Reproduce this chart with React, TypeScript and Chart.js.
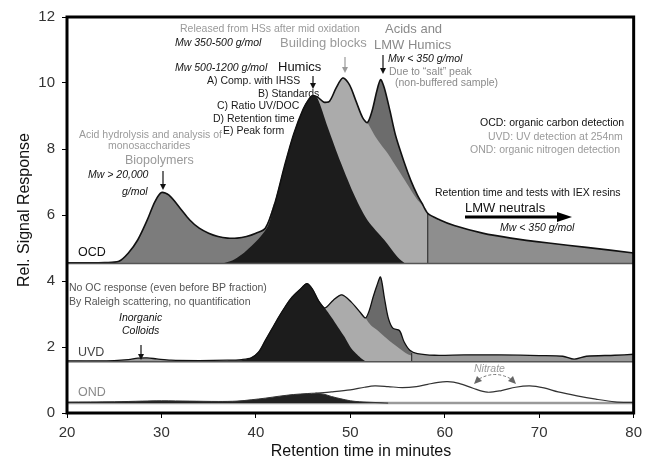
import { useEffect, useRef } from 'react';
import { Chart, registerables } from 'chart.js';

Chart.register(...registerables);

const FONT = '"Liberation Sans", Arial, Helvetica, sans-serif';

// axis ticks
const xTicks = [20, 30, 40, 50, 60, 70, 80];
const yTicks = [0, 2, 4, 6, 8, 10, 12];

// panel baselines
const ocdBase = 4.53;
const uvdBase = 1.55;
const ondBase = 0.3;

// OCD chromatogram (overall envelope)
const ocdTime = [20, 22, 24, 25.5, 26.5, 27.5, 28.5, 29.3, 30, 30.8, 32, 33, 34, 35, 36, 37, 38, 39, 40, 41, 42, 43, 44, 45, 45.6, 46, 46.5, 47.2, 47.8, 48.5, 49.2, 49.9, 50.6, 51.3, 51.8, 52.3, 52.8, 53.2, 53.6, 54.2, 54.8, 55.7, 56.4, 57.1, 57.6, 58.2, 59.5, 61, 64, 67, 71, 75, 80];
const ocdSignal = [4.55, 4.55, 4.56, 4.6, 4.85, 5.25, 5.85, 6.4, 6.68, 6.6, 6.2, 5.85, 5.6, 5.45, 5.35, 5.3, 5.3, 5.35, 5.45, 5.6, 6.35, 7.45, 8.45, 9.2, 9.5, 9.62, 9.58, 9.42, 9.45, 9.85, 10.15, 9.95, 9.45, 8.95, 8.8, 9.15, 9.75, 10.1, 9.85, 9.15, 8.4, 7.6, 7.05, 6.6, 6.35, 6.05, 5.85, 5.68, 5.45, 5.3, 5.15, 5.02, 4.85];

// OCD fractions
const bioOcdTime = [20, 25.5, 26.5, 27.5, 28.5, 29.3, 30, 30.8, 32, 33, 34, 35, 36, 37, 38, 39, 40, 41, 42, 42];
const bioOcdSignal = [4.55, 4.6, 4.85, 5.25, 5.85, 6.4, 6.68, 6.6, 6.2, 5.85, 5.6, 5.45, 5.35, 5.3, 5.3, 5.35, 5.45, 5.6, 6.35, 4.53];

const humicsOcdTime = [36.5, 37.5, 38.5, 39.5, 40.5, 41.3, 42, 43, 44, 45, 45.6, 46, 46.5, 47.6, 49, 50.5, 51.8, 53.6, 55, 55.8];
const humicsOcdSignal = [4.53, 4.62, 4.8, 5.05, 5.35, 5.68, 6.38, 7.48, 8.48, 9.23, 9.53, 9.64, 9.55, 8.67, 7.58, 6.55, 5.85, 5.24, 4.73, 4.53];

const bbOcdTime = [46.3, 46.5, 47.2, 47.8, 48.5, 49.2, 49.9, 50.6, 51.3, 51.8, 52.5, 53.2, 54, 55, 56, 57, 57.6, 58.2, 58.2];
const bbOcdSignal = [9.6, 9.6, 9.44, 9.47, 9.87, 10.17, 9.97, 9.47, 8.97, 8.8, 8.45, 8.15, 7.85, 7.4, 6.95, 6.5, 6.3, 6.06, 4.53];

const acidsOcdTime = [50.6, 51.3, 51.8, 52.3, 52.8, 53.2, 53.6, 54.2, 54.8, 55.7, 56.4, 57.1, 57.6, 58.2, 58.2];
const acidsOcdSignal = [9.45, 8.95, 8.8, 9.15, 9.75, 10.1, 9.85, 9.15, 8.4, 7.6, 7.05, 6.6, 6.35, 6.05, 4.53];

const lmwCutTime = [58.2, 58.2];
const lmwCutSignal = [4.53, 6.05];

// UVD chromatogram
const uvdTime = [20, 23, 25, 26.5, 27.5, 28.5, 29.5, 31, 34, 37, 38.5, 39.5, 40.3, 41, 41.7, 42.4, 43.1, 43.8, 44.7, 45.4, 46, 46.6, 47.3, 48.2, 49.1, 50.1, 51.1, 51.6, 52.0, 52.4, 52.8, 53.2, 53.6, 54.0, 54.5, 55.2, 55.7, 56.3, 57.1, 58.9, 62, 66, 70, 72.5, 73.7, 75, 78, 80];
const uvdSignal = [1.58, 1.58, 1.59, 1.62, 1.66, 1.67, 1.64, 1.6, 1.59, 1.6, 1.62, 1.67, 1.85, 2.2, 2.55, 2.9, 3.22, 3.5, 3.75, 3.92, 3.75, 3.42, 3.18, 3.42, 3.58, 3.36, 3.03, 2.88, 3.1, 3.5, 3.85, 4.12, 3.5, 2.9, 2.57, 2.5, 2.15, 1.9, 1.8, 1.75, 1.76, 1.76, 1.74, 1.72, 1.63, 1.72, 1.75, 1.78];

const humicsUvdTime = [37, 38.5, 39.5, 40.3, 41, 41.7, 42.4, 43.1, 43.8, 44.7, 45.4, 46, 46.6, 47.3, 48, 48.7, 49.4, 50, 50.6, 51.1, 51.7];
const humicsUvdSignal = [1.58, 1.6, 1.68, 1.87, 2.22, 2.57, 2.92, 3.24, 3.52, 3.77, 3.94, 3.77, 3.44, 3.18, 2.9, 2.6, 2.3, 2.0, 1.8, 1.67, 1.55];

const bbUvdTime = [46.6, 47.3, 48.2, 49.1, 50.1, 51.1, 51.6, 52.2, 52.9, 53.6, 54.3, 55.0, 55.7, 56.1, 56.5, 56.5];
const bbUvdSignal = [3.42, 3.2, 3.44, 3.6, 3.38, 3.05, 2.88, 2.65, 2.5, 2.32, 2.15, 2.0, 1.85, 1.78, 1.72, 1.55];

const acidsUvdTime = [51.1, 51.6, 52.0, 52.4, 52.8, 53.2, 53.6, 54.0, 54.5, 55.2, 55.7, 56.3, 56.5, 56.5];
const acidsUvdSignal = [3.03, 2.88, 3.1, 3.5, 3.85, 4.12, 3.5, 2.9, 2.57, 2.5, 2.15, 1.9, 1.85, 1.55];

const uvdCutTime = [56.5, 56.5];
const uvdCutSignal = [1.55, 1.82];

// OND chromatogram
const ondTime = [20, 25, 28, 30, 33, 36, 38, 39.5, 41, 42.5, 44, 45.5, 46.3, 47.2, 48, 49, 50, 51, 52.5, 54];
const ondSignal = [0.33, 0.34, 0.36, 0.37, 0.36, 0.35, 0.36, 0.4, 0.45, 0.51, 0.56, 0.59, 0.6, 0.57, 0.5, 0.43, 0.37, 0.34, 0.32, 0.3];

const nitroTime = [46.3, 48, 50, 51.5, 52.6, 54, 55.5, 57, 58.2, 59.3, 60.3, 61.5, 63, 64.5, 66, 67.5, 69, 70.5, 72, 74, 76, 78, 80];
const nitroSignal = [0.6, 0.64, 0.7, 0.78, 0.82, 0.8, 0.77, 0.8, 0.87, 0.93, 0.95, 0.9, 0.75, 0.63, 0.68, 0.78, 0.82, 0.76, 0.64, 0.52, 0.42, 0.34, 0.32];

const panelTime = [20, 80];

function pts(xs: number[], ys: number[]) {
  return xs.map((x, i) => ({ x, y: ys[i] }));
}

function flat(v: number) {
  return panelTime.map((x) => ({ x, y: v }));
}

type Txt = [string, number, number, string, string];
// text, left x, center y, color, font
const I = `italic 10.5px ${FONT}`;
const S = `10.5px ${FONT}`;
const L = `13px ${FONT}`;
const labels: Txt[] = [
  ['Released from HSs after mid oxidation', 180, 29, '#9a9a9a', S],
  ['Mw 350-500 g/mol', 175, 43, '#111', I],
  ['Building blocks', 280, 43, '#9a9a9a', L],
  ['Acids and', 385, 29, '#8a8a8a', L],
  ['LMW Humics', 374, 45, '#8a8a8a', L],
  ['Mw < 350 g/mol', 388, 59, '#111', I],
  ['Due to \u201csalt\u201d peak', 389, 72, '#8a8a8a', S],
  ['(non-buffered sample)', 395, 83, '#8a8a8a', S],
  ['Mw 500-1200 g/mol', 175, 68, '#111', I],
  ['Humics', 278, 67, '#111', L],
  ['A) Comp. with IHSS', 207, 81, '#1a1a1a', S],
  ['B) Standards', 258, 94, '#1a1a1a', S],
  ['C) Ratio UV/DOC', 217, 106, '#1a1a1a', S],
  ['D) Retention time', 213, 119, '#1a1a1a', S],
  ['E) Peak form', 223, 131, '#1a1a1a', S],
  ['Acid hydrolysis and analysis of', 79, 135, '#9a9a9a', S],
  ['monosaccharides', 108, 146, '#9a9a9a', S],
  ['Biopolymers', 125, 161, '#9a9a9a', `12.5px ${FONT}`],
  ['Mw > 20,000', 88, 175, '#111', I],
  ['g/mol', 122, 192, '#111', I],
  ['OCD: organic carbon detection', 480, 123, '#111', S],
  ['UVD: UV detection at 254nm', 488, 137, '#9a9a9a', S],
  ['OND: organic nitrogen detection', 470, 150, '#9a9a9a', S],
  ['Retention time and tests with IEX resins', 435, 193, '#111', S],
  ['LMW neutrals', 465, 208, '#111', L],
  ['Mw < 350 g/mol', 500, 228, '#111', I],
  ['OCD', 78, 253, '#111', `12.5px ${FONT}`],
  ['UVD', 78, 353, '#444', `12.5px ${FONT}`],
  ['OND', 78, 393, '#8a8a8a', `12.5px ${FONT}`],
  ['No OC response (even before BP fraction)', 69, 288, '#555', S],
  ['By Raleigh scattering, no quantification', 69, 302, '#555', S],
  ['Inorganic', 119, 318, '#111', I],
  ['Colloids', 122, 331, '#111', I],
  ['Nitrate', 474, 369, '#9a9a9a', I],
];

function arrowDown(ctx: CanvasRenderingContext2D, x: number, y1: number, y2: number, color: string) {
  ctx.strokeStyle = color;
  ctx.fillStyle = color;
  ctx.lineWidth = 1.2;
  ctx.beginPath();
  ctx.moveTo(x, y1);
  ctx.lineTo(x, y2 - 4);
  ctx.stroke();
  ctx.beginPath();
  ctx.moveTo(x - 3, y2 - 6);
  ctx.lineTo(x + 3, y2 - 6);
  ctx.lineTo(x, y2);
  ctx.closePath();
  ctx.fill();
}

const overlay = {
  id: 'overlay',
  afterDraw(chart: any) {
    const { ctx, chartArea: a } = chart;
    ctx.save();
    // frame
    ctx.strokeStyle = '#000';
    ctx.lineWidth = 3;
    ctx.strokeRect(a.left, a.top, a.right - a.left, a.bottom - a.top);

    // labels
    ctx.textAlign = 'left';
    ctx.textBaseline = 'middle';
    for (const [t, x, y, c, f] of labels) {
      ctx.font = f;
      ctx.fillStyle = c;
      ctx.fillText(t, x, y);
    }

    // arrows
    arrowDown(ctx, 345, 57, 73, '#9a9a9a');
    arrowDown(ctx, 383, 55, 74, '#111');
    arrowDown(ctx, 313, 76, 89, '#111');
    arrowDown(ctx, 163, 171, 190, '#111');
    arrowDown(ctx, 141, 345, 360, '#111');

    // LMW neutrals arrow
    ctx.strokeStyle = '#000';
    ctx.fillStyle = '#000';
    ctx.lineWidth = 3;
    ctx.beginPath();
    ctx.moveTo(465, 217);
    ctx.lineTo(560, 217);
    ctx.stroke();
    ctx.beginPath();
    ctx.moveTo(557, 212);
    ctx.lineTo(572, 217);
    ctx.lineTo(557, 222);
    ctx.closePath();
    ctx.fill();

    // nitrate double arrow
    ctx.strokeStyle = '#777';
    ctx.fillStyle = '#666';
    ctx.lineWidth = 1;
    ctx.setLineDash([3, 2]);
    ctx.beginPath();
    ctx.moveTo(479, 379);
    ctx.quadraticCurveTo(495, 370, 511, 379);
    ctx.stroke();
    ctx.setLineDash([]);
    ctx.beginPath();
    ctx.moveTo(474, 384);
    ctx.lineTo(477, 376);
    ctx.lineTo(482, 381);
    ctx.closePath();
    ctx.fill();
    ctx.beginPath();
    ctx.moveTo(516, 384);
    ctx.lineTo(513, 376);
    ctx.lineTo(508, 381);
    ctx.closePath();
    ctx.fill();

    // axis titles
    ctx.fillStyle = '#111';
    ctx.font = `16px ${FONT}`;
    ctx.textAlign = 'center';
    ctx.fillText('Retention time in minutes', 361, 452);
    ctx.save();
    ctx.translate(25, 210);
    ctx.rotate(-Math.PI / 2);
    ctx.fillText('Rel. Signal Response', 0, 0);
    ctx.restore();
    ctx.restore();
  },
};

export default function App() {
  const ref = useRef<HTMLCanvasElement>(null);
  useEffect(() => {
    document.body.style.margin = '0';
    const base = { pointRadius: 0, borderWidth: 0, tension: 0.3 };
    const layers: any[] = [
      { ...base, data: pts(ocdTime, ocdSignal), backgroundColor: '#8e8e8e', fill: { value: ocdBase } },
      { ...base, data: pts(bioOcdTime, bioOcdSignal), backgroundColor: '#7c7c7c', fill: { value: ocdBase } },
      { ...base, data: pts(acidsOcdTime, acidsOcdSignal), backgroundColor: '#6c6c6c', fill: { value: ocdBase } },
      { ...base, data: pts(bbOcdTime, bbOcdSignal), backgroundColor: '#ababab', fill: { value: ocdBase } },
      { ...base, data: pts(humicsOcdTime, humicsOcdSignal), backgroundColor: '#1c1c1c', fill: { value: ocdBase } },
      { ...base, data: pts(lmwCutTime, lmwCutSignal), borderColor: '#222', borderWidth: 1, fill: false, tension: 0 },
      { ...base, data: pts(ocdTime, ocdSignal), borderColor: '#111', borderWidth: 1.6, fill: false },

      { ...base, data: pts(uvdTime, uvdSignal), backgroundColor: '#9a9a9a', fill: { value: uvdBase } },
      { ...base, data: pts(acidsUvdTime, acidsUvdSignal), backgroundColor: '#6a6a6a', fill: { value: uvdBase } },
      { ...base, data: pts(bbUvdTime, bbUvdSignal), backgroundColor: '#ababab', fill: { value: uvdBase } },
      { ...base, data: pts(humicsUvdTime, humicsUvdSignal), backgroundColor: '#1c1c1c', fill: { value: uvdBase } },
      { ...base, data: pts(uvdCutTime, uvdCutSignal), borderColor: '#222', borderWidth: 1, fill: false, tension: 0 },
      { ...base, data: pts(uvdTime, uvdSignal), borderColor: '#111', borderWidth: 1.3, fill: false },

      { ...base, data: flat(ondBase), borderColor: '#9a9a9a', borderWidth: 2.5, fill: false, tension: 0 },
      { ...base, data: pts(ondTime, ondSignal), backgroundColor: '#222', borderColor: '#333', borderWidth: 1, fill: { value: ondBase } },
      { ...base, data: pts(nitroTime, nitroSignal), borderColor: '#333', borderWidth: 1.2, fill: false },

      { ...base, data: flat(ocdBase), borderColor: '#555', borderWidth: 1.5, fill: false, tension: 0 },
      { ...base, data: flat(uvdBase), borderColor: '#555', borderWidth: 1.5, fill: false, tension: 0 },
    ];
    const n = layers.length;
    layers.forEach((d, i) => { d.order = n - i; });

    const tickFont = { family: FONT, size: 15 };
    const chart = new Chart(ref.current!, {
      type: 'line',
      data: { datasets: layers },
      options: {
        animation: false,
        responsive: false,
        devicePixelRatio: 1,
        layout: { padding: { top: 17, right: 11, left: 0, bottom: 0 } },
        plugins: { legend: { display: false }, tooltip: { enabled: false } },
        scales: {
          x: {
            type: 'linear',
            min: 20,
            max: 80,
            afterBuildTicks: (s: any) => { s.ticks = xTicks.map((v) => ({ value: v })); },
            afterFit: (s: any) => { s.height = 50; },
            ticks: { font: tickFont, color: '#333', padding: 6, maxRotation: 0 },
            grid: { drawOnChartArea: false, drawTicks: true, tickLength: 5, color: '#000' },
            border: { display: false },
          },
          y: {
            type: 'linear',
            min: 0,
            max: 12,
            afterBuildTicks: (s: any) => { s.ticks = yTicks.map((v) => ({ value: v })); },
            afterFit: (s: any) => { s.width = 67; },
            ticks: { font: tickFont, color: '#333', padding: 7 },
            grid: { drawOnChartArea: false, drawTicks: true, tickLength: 5, color: '#000' },
            border: { display: false },
          },
        },
      },
      plugins: [overlay],
    });
    return () => chart.destroy();
  }, []);
  return <canvas ref={ref} width={648} height={463} style={{ display: 'block', width: 648, height: 463 }} />;
}
